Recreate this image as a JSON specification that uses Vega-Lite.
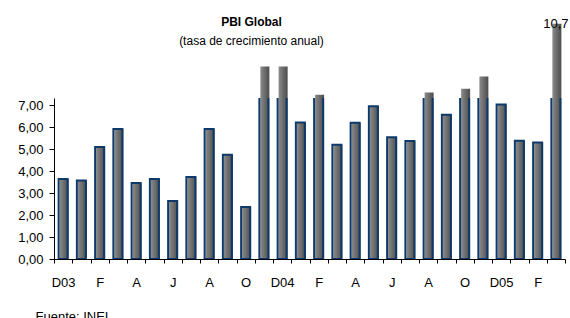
{
  "$schema": "https://vega.github.io/schema/vega-lite/v6.json",
  "width": 511,
  "height": 161,
  "autosize": "none",
  "padding": {"left": 54, "top": 98, "right": 5, "bottom": 59},
  "background": "white",
  "config": {
    "view": {"stroke": null},
    "locale": {"number": {"decimal": ",", "thousands": ".", "grouping": [3], "currency": ["", " €"]}},
    "axis": {"labelFont": "Liberation Sans", "labelColor": "#000", "domainColor": "#000", "tickColor": "#000", "grid": false}
  },
  "title": {
    "text": "PBI Global",
    "subtitle": "(tasa de crecimiento anual)",
    "font": "Liberation Sans",
    "fontSize": 12,
    "fontWeight": "bold",
    "subtitleFont": "Liberation Sans",
    "subtitleFontSize": 12,
    "subtitleColor": "#000",
    "color": "#000",
    "anchor": "middle",
    "dx": -58,
    "offset": -30,
    "subtitlePadding": 7
  },
  "data": {"values": [
    {"mes": "2003-12", "v": 3.64},
    {"mes": "2004-01", "v": 3.57},
    {"mes": "2004-02", "v": 5.09},
    {"mes": "2004-03", "v": 5.91},
    {"mes": "2004-04", "v": 3.45},
    {"mes": "2004-05", "v": 3.64},
    {"mes": "2004-06", "v": 2.64},
    {"mes": "2004-07", "v": 3.73},
    {"mes": "2004-08", "v": 5.91},
    {"mes": "2004-09", "v": 4.74},
    {"mes": "2004-10", "v": 2.36},
    {"mes": "2004-11", "v": 8.75},
    {"mes": "2004-12", "v": 8.75},
    {"mes": "2005-01", "v": 6.21},
    {"mes": "2005-02", "v": 7.47},
    {"mes": "2005-03", "v": 5.2},
    {"mes": "2005-04", "v": 6.19},
    {"mes": "2005-05", "v": 6.94},
    {"mes": "2005-06", "v": 5.54},
    {"mes": "2005-07", "v": 5.36},
    {"mes": "2005-08", "v": 7.57},
    {"mes": "2005-09", "v": 6.56},
    {"mes": "2005-10", "v": 7.74},
    {"mes": "2005-11", "v": 8.3},
    {"mes": "2005-12", "v": 7.03},
    {"mes": "2006-01", "v": 5.38},
    {"mes": "2006-02", "v": 5.3},
    {"mes": "2006-03", "v": 10.7}
  ]},
  "encoding": {
    "x": {
      "field": "mes", "type": "ordinal", "sort": null,
      "scale": {"paddingInner": 0, "paddingOuter": 0},
      "axis": {
        "labelAngle": 0,
        "labelFontSize": 13,
        "labelPadding": 13,
        "tickBand": "extent",
        "tickSize": 4,
        "labelExpr": "!isString(datum.value) ? '' : (toNumber(slice(datum.value, 5)) % 2 == 1 ? '' : (slice(datum.value, 5) == '12' ? 'D' + slice(datum.value, 2, 4) : ['E','F','M','A','M','J','J','A','S','O','N','D'][toNumber(slice(datum.value, 5)) - 1]))",
        "title": "Fuente: INEI",
        "titleFont": "Liberation Sans",
        "titleFontSize": 13,
        "titleFontWeight": "normal",
        "titleColor": "#000",
        "titleAnchor": "start",
        "titleAlign": "left",
        "titleBaseline": "alphabetic",
        "titleX": -19,
        "titleY": 61
      }
    },
    "y": {
      "field": "v", "type": "quantitative",
      "scale": {"domain": [0, 7.32], "nice": false, "zero": true},
      "axis": {
        "values": [0, 1, 2, 3, 4, 5, 6, 7],
        "format": ".2f",
        "labelFontSize": 13,
        "tickSize": 5,
        "labelPadding": 6,
        "title": null
      }
    }
  },
  "layer": [
    {
      "mark": {
        "type": "bar",
        "size": 9,
        "xOffset": 1,
        "color": {
          "gradient": "linear", "x1": 0, "y1": 0, "x2": 1, "y2": 0,
          "stops": [{"offset": 0, "color": "#8a8a8a"}, {"offset": 1, "color": "#4c4c4c"}]
        }
      }
    },
    {
      "mark": {"type": "bar", "size": 9, "clip": true, "filled": false, "stroke": "#0d3a6b", "strokeWidth": 2}
    },
    {
      "transform": [{"filter": "datum.v > 10"}],
      "mark": {"type": "text", "font": "Liberation Sans", "fontSize": 13, "baseline": "middle", "color": "#000"},
      "encoding": {"text": {"field": "v", "type": "quantitative", "format": ".1f"}}
    }
  ]
}
